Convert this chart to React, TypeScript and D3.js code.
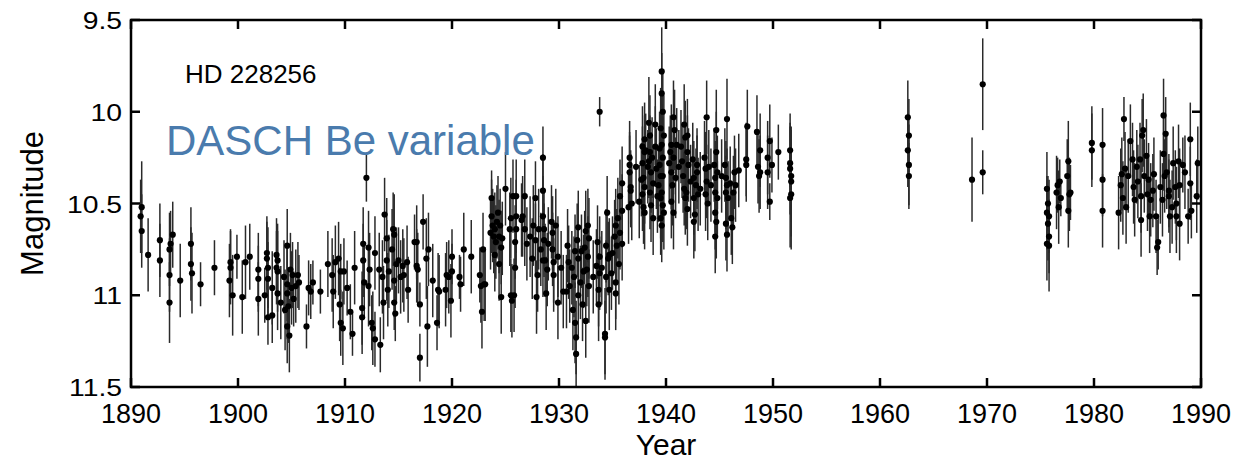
import React from "react";
import * as d3 from "d3";

// [year, magnitude, error half-length]
const era1890: [number, number, number][] = [
  [1891.0, 10.52, 0.25], [1890.9, 10.57, 0.2], [1891.0, 10.65, 0.2], [1891.6, 10.78, 0.2],
  [1892.7, 10.7, 0.2], [1892.7, 10.81, 0.2], [1893.6, 10.75, 0.2], [1893.7, 10.72, 0.18],
  [1893.9, 10.67, 0.18], [1893.6, 10.89, 0.2], [1893.6, 11.04, 0.22], [1894.6, 10.92, 0.2],
  [1895.6, 10.72, 0.2], [1895.6, 10.83, 0.2], [1895.7, 10.88, 0.22], [1896.5, 10.94, 0.12],
  [1897.8, 10.85, 0.15], [1899.3, 10.85, 0.2], [1899.3, 10.82, 0.18], [1899.2, 10.92, 0.2],
  [1899.5, 11.0, 0.22], [1899.9, 10.79, 0.12], [1900.4, 11.01, 0.2], [1900.7, 10.82, 0.2],
  [1901.1, 10.79, 0.18], [1901.9, 10.86, 0.2], [1901.9, 10.91, 0.18], [1901.9, 11.02, 0.2],
  [1902.7, 10.77, 0.2], [1902.7, 10.8, 0.2], [1902.8, 10.85, 0.22], [1902.8, 10.91, 0.2],
  [1902.5, 11.0, 0.15], [1902.8, 11.12, 0.15], [1903.2, 10.96, 0.2], [1903.2, 11.11, 0.15],
  [1903.6, 10.78, 0.2], [1903.7, 10.81, 0.2], [1903.6, 10.85, 0.2], [1903.7, 10.87, 0.22],
  [1903.7, 10.99, 0.2], [1904.0, 11.04, 0.2], [1904.6, 10.73, 0.2], [1904.6, 10.94, 0.2],
  [1904.6, 10.99, 0.25], [1904.7, 11.06, 0.2], [1904.6, 11.17, 0.2], [1904.9, 10.86, 0.2],
  [1905.0, 10.96, 0.2], [1905.1, 10.89, 0.18], [1905.2, 11.02, 0.15], [1905.6, 10.89, 0.18],
  [1905.7, 10.93, 0.15], [1906.4, 11.17, 0.12], [1906.6, 10.96, 0.15], [1906.8, 10.98, 0.15],
  [1907.0, 10.93, 0.12], [1907.7, 10.98, 0.12], [1904.3, 10.9, 0.2], [1904.4, 11.08, 0.22],
  [1905.4, 10.95, 0.2], [1904.8, 11.22, 0.2],
];

const era1908: [number, number, number][] = [
  [1908.4, 10.83, 0.18], [1908.8, 10.89, 0.2], [1908.9, 10.98, 0.2], [1909.1, 10.82, 0.2],
  [1909.4, 10.8, 0.2], [1909.5, 11.05, 0.2], [1909.6, 11.15, 0.18], [1909.8, 11.18, 0.2],
  [1909.6, 10.87, 0.15], [1909.9, 10.87, 0.18], [1910.2, 10.96, 0.15], [1910.5, 11.09, 0.15],
  [1910.7, 11.21, 0.12], [1910.9, 10.85, 0.2], [1911.6, 11.07, 0.2], [1911.6, 11.12, 0.2],
  [1911.7, 10.72, 0.2], [1911.7, 10.81, 0.2], [1911.8, 10.93, 0.2], [1912.0, 10.36, 0.13],
  [1912.2, 10.95, 0.22], [1912.2, 10.74, 0.2], [1912.3, 10.86, 0.2], [1912.5, 11.15, 0.15],
  [1912.6, 11.18, 0.2], [1912.8, 11.24, 0.15], [1913.3, 11.27, 0.15], [1912.8, 10.77, 0.2],
  [1913.5, 10.9, 0.2], [1913.6, 11.04, 0.2], [1913.7, 10.56, 0.2], [1913.9, 10.69, 0.22],
  [1913.9, 10.81, 0.22], [1914.0, 10.97, 0.2], [1914.1, 10.87, 0.2], [1914.4, 10.75, 0.22],
  [1914.5, 10.64, 0.2], [1914.6, 10.67, 0.22], [1914.6, 10.92, 0.2], [1914.6, 11.04, 0.15],
  [1914.7, 11.1, 0.15], [1914.8, 10.83, 0.2], [1915.0, 10.81, 0.18], [1915.4, 10.84, 0.2],
  [1915.5, 10.89, 0.2], [1915.8, 10.82, 0.2], [1915.9, 10.97, 0.18], [1916.5, 10.71, 0.15],
  [1916.7, 10.84, 0.2], [1916.7, 10.71, 0.2], [1916.8, 10.86, 0.2], [1917.0, 11.05, 0.12],
  [1917.0, 11.34, 0.13], [1917.3, 10.6, 0.15], [1917.6, 10.8, 0.22], [1917.7, 11.17, 0.22],
  [1917.8, 10.75, 0.2], [1918.2, 10.92, 0.2], [1918.6, 11.15, 0.15], [1918.7, 10.97, 0.2],
  [1918.8, 10.98, 0.2], [1919.4, 10.97, 0.2], [1919.5, 10.89, 0.18], [1919.7, 10.9, 0.2],
  [1919.9, 11.03, 0.2], [1920.0, 10.79, 0.15], [1920.0, 10.87, 0.15], [1920.7, 10.9, 0.12],
  [1920.8, 10.94, 0.15], [1921.1, 10.75, 0.2], [1921.8, 10.79, 0.2], [1922.6, 10.89, 0.15],
  [1922.7, 10.95, 0.2], [1922.8, 11.09, 0.2], [1922.9, 10.75, 0.2], [1923.0, 10.94, 0.2],
  [1923.1, 10.94, 0.2], [1923.6, 10.66, 0.2], [1923.7, 10.47, 0.15], [1923.7, 10.57, 0.2],
  [1923.9, 10.68, 0.2], [1924.0, 10.78, 0.2], [1924.0, 10.64, 0.2], [1924.1, 10.71, 0.2],
  [1924.3, 10.55, 0.2], [1924.4, 10.68, 0.2], [1924.4, 10.83, 0.2], [1924.6, 11.01, 0.2],
  [1924.6, 10.74, 0.2], [1924.7, 10.69, 0.2], [1925.0, 10.42, 0.2], [1925.4, 10.64, 0.2],
  [1925.5, 10.58, 0.22], [1925.5, 11.0, 0.2], [1925.6, 11.03, 0.2], [1925.7, 10.46, 0.2],
  [1926.0, 10.57, 0.2], [1925.9, 10.71, 0.2], [1923.8, 10.62, 0.2], [1924.2, 10.6, 0.2],
  [1924.5, 10.62, 0.2], [1913.2, 10.86, 0.2], [1915.2, 10.9, 0.2],
];

const era1926: [number, number, number][] = [
  [1926.0, 10.46, 0.2], [1926.0, 10.64, 0.2], [1925.9, 10.85, 0.22], [1925.8, 11.0, 0.2],
  [1926.6, 10.57, 0.22], [1926.5, 10.59, 0.2], [1926.8, 10.46, 0.2], [1926.8, 10.64, 0.2],
  [1927.0, 10.72, 0.2], [1927.3, 10.68, 0.22], [1927.5, 10.8, 0.22], [1927.6, 10.62, 0.22],
  [1927.8, 10.47, 0.2], [1927.8, 10.7, 0.2], [1927.9, 11.01, 0.2], [1928.0, 10.89, 0.2],
  [1928.1, 10.64, 0.22], [1928.3, 10.75, 0.2], [1928.5, 10.81, 0.2], [1928.5, 10.25, 0.17],
  [1928.5, 10.43, 0.2], [1928.5, 10.57, 0.22], [1928.6, 10.64, 0.22], [1928.6, 10.7, 0.2],
  [1928.7, 10.81, 0.2], [1928.8, 10.99, 0.2], [1928.9, 10.86, 0.2], [1929.0, 10.72, 0.2],
  [1929.3, 10.6, 0.2], [1929.4, 10.66, 0.2], [1929.4, 10.75, 0.2], [1929.5, 10.82, 0.22],
  [1929.5, 10.89, 0.2], [1929.7, 10.62, 0.2], [1929.9, 11.04, 0.2], [1929.9, 10.79, 0.22],
  [1930.4, 10.98, 0.2], [1930.7, 10.98, 0.2], [1930.8, 10.73, 0.2], [1930.9, 10.82, 0.2],
  [1931.2, 10.85, 0.2], [1931.3, 11.08, 0.22], [1931.4, 10.9, 0.22], [1931.5, 10.76, 0.2],
  [1931.5, 11.15, 0.22], [1931.6, 11.32, 0.18], [1931.6, 11.23, 0.2], [1931.8, 10.63, 0.2],
  [1931.8, 10.8, 0.2], [1931.8, 11.0, 0.22], [1932.0, 10.93, 0.2], [1932.1, 10.76, 0.2],
  [1932.3, 10.87, 0.2], [1932.4, 10.74, 0.2], [1932.5, 11.14, 0.2], [1932.5, 10.65, 0.22],
  [1932.7, 10.62, 0.2], [1932.7, 10.79, 0.22], [1932.8, 10.95, 0.2], [1932.8, 10.69, 0.22],
  [1933.5, 10.84, 0.2], [1933.6, 10.71, 0.2], [1933.7, 10.97, 0.2], [1933.7, 11.05, 0.2],
  [1933.8, 10.88, 0.2], [1933.8, 10.79, 0.22], [1933.8, 10.0, 0.08], [1934.3, 11.21, 0.25],
  [1934.3, 11.23, 0.2], [1934.4, 10.73, 0.2], [1934.4, 10.9, 0.2], [1934.5, 10.55, 0.2],
  [1934.6, 10.8, 0.2], [1934.7, 10.97, 0.22], [1934.7, 10.78, 0.2], [1935.3, 10.99, 0.2],
  [1935.3, 10.62, 0.2], [1935.3, 10.93, 0.2], [1935.4, 10.73, 0.2], [1935.5, 10.58, 0.22],
  [1935.6, 10.83, 0.22], [1935.7, 10.46, 0.2], [1935.7, 10.66, 0.2], [1935.9, 10.39, 0.2],
  [1935.9, 10.54, 0.2], [1935.9, 10.72, 0.2], [1935.2, 10.68, 0.2], [1935.0, 10.77, 0.2],
  [1934.9, 10.88, 0.2], [1930.2, 10.85, 0.2], [1931.0, 10.95, 0.2], [1932.2, 11.05, 0.2],
  [1933.2, 10.9, 0.2], [1934.0, 10.85, 0.2], [1931.7, 10.7, 0.2], [1932.6, 10.86, 0.2],
];

const era1936: [number, number, number][] = [
  [1936.6, 10.25, 0.2], [1936.6, 10.33, 0.2], [1936.7, 10.41, 0.2], [1936.8, 10.5, 0.2],
  [1936.6, 10.29, 0.18], [1936.7, 10.43, 0.2], [1936.5, 10.52, 0.2], [1937.5, 10.49, 0.2],
  [1937.7, 10.37, 0.2], [1937.8, 10.19, 0.22], [1937.8, 10.28, 0.2], [1937.8, 10.45, 0.2],
  [1937.9, 10.36, 0.2], [1937.9, 10.52, 0.2], [1938.1, 10.21, 0.2], [1938.0, 10.15, 0.2],
  [1938.0, 10.22, 0.2], [1938.0, 10.41, 0.2], [1938.0, 10.55, 0.2], [1938.4, 10.06, 0.25],
  [1938.5, 10.13, 0.22], [1938.5, 10.22, 0.2], [1938.4, 10.27, 0.2], [1938.6, 10.33, 0.22],
  [1938.5, 10.44, 0.2], [1938.6, 10.51, 0.2], [1938.8, 10.58, 0.2], [1938.8, 10.39, 0.2],
  [1939.0, 10.07, 0.22], [1939.0, 10.19, 0.22], [1939.1, 10.31, 0.22], [1939.2, 10.46, 0.2],
  [1939.4, 10.29, 0.2], [1939.4, 10.2, 0.2], [1939.5, 10.35, 0.2], [1939.5, 10.47, 0.22],
  [1939.5, 10.58, 0.2], [1939.6, 9.78, 0.24], [1939.6, 9.9, 0.22], [1939.7, 10.0, 0.22],
  [1939.5, 10.09, 0.22], [1939.6, 10.18, 0.22], [1939.7, 10.25, 0.22], [1939.7, 10.35, 0.22],
  [1939.6, 10.44, 0.2], [1939.7, 10.51, 0.2], [1939.6, 10.62, 0.2], [1939.8, 10.13, 0.22],
  [1939.8, 10.55, 0.2], [1940.4, 10.22, 0.2], [1940.5, 10.18, 0.22], [1940.5, 10.33, 0.2],
  [1940.6, 10.4, 0.22], [1940.5, 10.49, 0.2], [1940.7, 10.25, 0.2], [1940.7, 10.03, 0.2],
  [1940.8, 10.1, 0.22], [1940.9, 10.36, 0.22], [1940.7, 10.55, 0.2], [1941.0, 10.18, 0.2],
  [1941.4, 10.19, 0.2], [1941.5, 10.27, 0.2], [1941.6, 10.35, 0.2], [1941.7, 10.07, 0.22],
  [1941.7, 10.42, 0.2], [1941.8, 10.14, 0.2], [1941.8, 10.47, 0.2], [1942.0, 10.13, 0.2],
  [1942.0, 10.22, 0.2], [1942.1, 10.29, 0.2], [1941.9, 10.44, 0.2], [1942.0, 10.53, 0.2],
  [1942.5, 10.26, 0.2], [1942.6, 10.36, 0.2], [1942.6, 10.47, 0.2], [1942.7, 10.56, 0.2],
  [1942.8, 10.4, 0.2], [1942.9, 10.29, 0.2], [1942.9, 10.33, 0.2], [1943.0, 10.45, 0.2],
  [1942.6, 10.6, 0.2], [1943.6, 10.25, 0.2], [1943.8, 10.03, 0.2], [1943.7, 10.31, 0.2],
  [1943.8, 10.38, 0.2], [1943.7, 10.45, 0.2], [1943.9, 10.5, 0.2], [1944.0, 10.3, 0.2],
  [1944.5, 10.29, 0.2], [1944.6, 10.44, 0.22], [1944.7, 10.1, 0.22], [1944.6, 10.36, 0.2],
  [1944.7, 10.22, 0.22], [1944.6, 10.55, 0.2], [1944.7, 10.6, 0.2], [1944.6, 10.68, 0.2],
  [1944.8, 10.33, 0.2], [1944.8, 10.47, 0.2], [1945.5, 10.29, 0.2], [1945.7, 10.04, 0.22],
  [1945.6, 10.36, 0.2], [1945.7, 10.4, 0.2], [1945.6, 10.44, 0.2], [1945.8, 10.47, 0.2],
  [1945.6, 10.61, 0.2], [1945.7, 10.67, 0.2], [1946.0, 10.39, 0.2], [1946.1, 10.58, 0.2],
  [1946.2, 10.63, 0.2], [1946.3, 10.44, 0.2], [1946.4, 10.33, 0.2], [1946.8, 10.32, 0.2],
  [1947.6, 10.08, 0.2], [1947.5, 10.26, 0.2], [1947.5, 10.29, 0.2], [1948.5, 10.11, 0.2],
  [1948.6, 10.3, 0.2], [1948.7, 10.35, 0.2], [1948.8, 10.21, 0.2], [1948.8, 10.33, 0.2],
  [1949.5, 10.25, 0.2], [1949.5, 10.33, 0.2], [1949.7, 10.16, 0.2], [1949.7, 10.49, 0.1],
  [1949.9, 10.29, 0.15], [1950.5, 10.22, 0.15], [1951.6, 10.21, 0.2], [1951.6, 10.28, 0.2],
  [1951.6, 10.31, 0.25], [1951.7, 10.35, 0.25], [1951.7, 10.38, 0.3], [1951.7, 10.45, 0.3],
  [1951.6, 10.47, 0.27], [1938.3, 10.3, 0.2], [1938.7, 10.25, 0.22], [1939.3, 10.4, 0.2],
  [1940.3, 10.28, 0.2], [1941.2, 10.3, 0.2], [1942.3, 10.38, 0.2], [1943.2, 10.42, 0.2],
  [1944.2, 10.4, 0.2], [1945.2, 10.35, 0.2], [1946.5, 10.4, 0.2], [1937.2, 10.3, 0.2],
];

const era1962: [number, number, number][] = [
  [1962.6, 10.03, 0.2], [1962.7, 10.13, 0.2], [1962.6, 10.21, 0.2], [1962.7, 10.29, 0.22],
  [1962.7, 10.35, 0.18], [1968.6, 10.37, 0.23], [1969.6, 9.85, 0.25], [1969.6, 10.33, 0.12],
  [1975.6, 10.42, 0.2], [1975.7, 10.5, 0.15], [1975.6, 10.55, 0.2], [1975.8, 10.57, 0.2],
  [1975.7, 10.61, 0.2], [1975.8, 10.68, 0.2], [1975.6, 10.72, 0.2], [1975.8, 10.73, 0.25],
  [1976.5, 10.44, 0.2], [1976.6, 10.4, 0.15], [1976.7, 10.52, 0.2], [1976.9, 10.47, 0.1],
  [1976.8, 10.38, 0.12], [1977.5, 10.35, 0.2], [1977.6, 10.27, 0.22], [1977.6, 10.54, 0.2],
  [1977.7, 10.45, 0.2], [1977.8, 10.44, 0.15], [1979.8, 10.17, 0.2], [1979.8, 10.21, 0.2],
  [1980.8, 10.18, 0.2], [1980.8, 10.37, 0.2], [1980.8, 10.54, 0.2], [1982.3, 10.55, 0.2],
  [1982.5, 10.4, 0.2], [1982.6, 10.34, 0.2], [1982.7, 10.47, 0.2], [1982.8, 10.04, 0.12],
  [1982.9, 10.31, 0.2], [1983.0, 10.52, 0.2], [1983.2, 10.35, 0.2], [1983.4, 10.16, 0.2],
  [1983.6, 10.26, 0.2], [1983.7, 10.41, 0.2], [1983.8, 10.48, 0.2], [1984.0, 10.3, 0.2],
  [1984.1, 10.38, 0.2], [1984.3, 10.26, 0.2], [1984.4, 10.59, 0.2], [1984.4, 10.46, 0.2],
  [1984.5, 10.13, 0.2], [1984.6, 10.1, 0.2], [1984.7, 10.35, 0.2], [1984.9, 10.24, 0.2],
  [1985.0, 10.45, 0.2], [1985.1, 10.37, 0.2], [1985.2, 10.57, 0.2], [1985.3, 10.48, 0.2],
  [1985.5, 10.43, 0.2], [1985.6, 10.34, 0.2], [1985.9, 10.74, 0.15], [1986.0, 10.71, 0.15],
  [1985.8, 10.57, 0.2], [1986.2, 10.41, 0.2], [1986.4, 10.48, 0.2], [1986.5, 10.02, 0.2],
  [1986.5, 10.23, 0.2], [1986.6, 10.35, 0.2], [1986.7, 10.12, 0.2], [1986.8, 10.33, 0.2],
  [1987.0, 10.43, 0.2], [1987.0, 10.46, 0.2], [1987.1, 10.57, 0.2], [1987.3, 10.52, 0.2],
  [1987.4, 10.28, 0.2], [1987.6, 10.41, 0.2], [1987.7, 10.5, 0.2], [1987.7, 10.57, 0.2],
  [1987.9, 10.27, 0.2], [1988.0, 10.61, 0.2], [1988.0, 10.4, 0.2], [1988.3, 10.29, 0.15],
  [1988.5, 10.33, 0.2], [1988.8, 10.57, 0.15], [1989.0, 10.15, 0.2], [1989.0, 10.39, 0.2],
  [1989.1, 10.54, 0.15], [1989.6, 10.46, 0.2], [1989.7, 10.28, 0.2],
];

const xTicks = [1890, 1900, 1910, 1920, 1930, 1940, 1950, 1960, 1970, 1980, 1990];
const yTicks = [9.5, 10, 10.5, 11, 11.5];
const starName = "HD 228256";
const overlayTitle = "DASCH Be variable";

const W = 1258;
const H = 461;
const left = 131;
const right = 1201;
const top = 20;
const bottom = 387;
const FONT = "'Liberation Sans', Arial, Helvetica, sans-serif";

export default function App() {
  const x = d3.scaleLinear().domain([1890, 1990]).range([left, right]);
  const y = d3.scaleLinear().domain([9.5, 11.5]).range([top, bottom]);
  const all = [...era1890, ...era1908, ...era1926, ...era1936, ...era1962];
  const tickLen = 9;

  return (
    <svg
      width={W}
      height={H}
      style={{ position: "absolute", left: 0, top: 0, background: "#fff" }}
      fontFamily={FONT}
    >
      <defs>
        <clipPath id="plotClip">
          <rect x={left} y={top} width={right - left} height={bottom - top} />
        </clipPath>
      </defs>

      {/* error bars */}
      <g clipPath="url(#plotClip)">
        {all.map(([yr, m, e], i) => (
          <line
            key={"e" + i}
            x1={x(yr)}
            x2={x(yr)}
            y1={y(m - e)}
            y2={y(m + e)}
            stroke="#2a2a2a"
            strokeWidth={1.5}
          />
        ))}
        {all.map(([yr, m], i) => (
          <circle key={"p" + i} cx={x(yr)} cy={y(m)} r={3.1} fill="#000" />
        ))}
      </g>

      {/* frame */}
      <rect
        x={left}
        y={top}
        width={right - left}
        height={bottom - top}
        fill="none"
        stroke="#000"
        strokeWidth={2.5}
      />

      {/* x ticks (bottom and top, inward) */}
      {xTicks.map((t) => (
        <g key={"xt" + t}>
          <line x1={x(t)} x2={x(t)} y1={bottom} y2={bottom - tickLen} stroke="#000" strokeWidth={2.5} />
          <line x1={x(t)} x2={x(t)} y1={top} y2={top + tickLen} stroke="#000" strokeWidth={2.5} />
          <text x={x(t)} y={423} textAnchor="middle" fontSize={27} fill="#000">
            {t}
          </text>
        </g>
      ))}

      {/* y ticks (left and right, inward) */}
      {yTicks.map((t) => (
        <g key={"yt" + t}>
          <line x1={left} x2={left + tickLen} y1={y(t)} y2={y(t)} stroke="#000" strokeWidth={2.5} />
          <line x1={right} x2={right - tickLen} y1={y(t)} y2={y(t)} stroke="#000" strokeWidth={2.5} />
          <text
            transform={`translate(122,${y(t) + 9}) scale(1.18,1)`}
            textAnchor="end"
            fontSize={24}
            fill="#000"
          >
            {t}
          </text>
        </g>
      ))}

      <text x={(left + right) / 2} y={455} textAnchor="middle" fontSize={30} fill="#000">
        Year
      </text>
      <text
        transform={`translate(43,${(top + bottom) / 2}) rotate(-90)`}
        textAnchor="middle"
        fontSize={31}
        fill="#000"
      >
        Magnitude
      </text>

      <text x={185} y={83} fontSize={26} fill="#000">
        {starName}
      </text>
      <text x={166} y={155} fontSize={42} fill="#4a7bad">
        {overlayTitle}
      </text>
    </svg>
  );
}
